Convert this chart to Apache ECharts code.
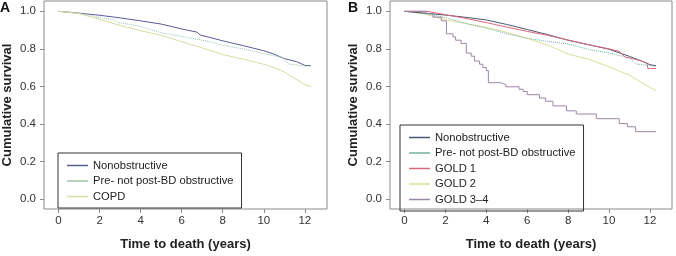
<!DOCTYPE html>
<html>
<head>
<meta charset="utf-8">
<script src="https://cdn.jsdelivr.net/npm/echarts@6/dist/echarts.min.js"></script>
<style>
  html, body { margin: 0; padding: 0; background: #fff; }
  #chart { width: 676px; height: 256px; }
</style>
</head>
<body>
<div id="chart"></div>
<script>
// tick labels
const xTicks = [0, 2, 4, 6, 8, 10, 12];
const yTicks = [0, 0.2, 0.4, 0.6, 0.8, 1.0];

// panel A: [years, cumulative survival]
const nonobA = [[0,1],[1,0.99],[2,0.979],[3,0.965],[4,0.949],[5,0.932],[6,0.906],[6.75,0.889],[6.9,0.874],[8,0.843],[9,0.817],[10,0.79],[10.5,0.772],[11,0.748],[11.6,0.732],[12,0.712],[12.3,0.71]];
const preA = [[0,1],[1,0.99],[1.5,0.98],[2,0.966],[2.7,0.955],[2.9,0.94],[3.5,0.93],[4,0.918],[5,0.886],[6,0.866],[7,0.846],[7.5,0.835],[8,0.818],[9,0.8],[10,0.775],[10.9,0.754],[11.2,0.72],[12,0.708],[12.3,0.708]];
const copdA = [[0,1],[1,0.988],[2,0.957],[3,0.925],[4,0.897],[5,0.872],[6,0.838],[7,0.805],[8,0.77],[9,0.745],[10,0.718],[10.5,0.7],[11,0.677],[11.5,0.643],[12,0.61],[12.3,0.6]];

// panel B
const nonobB = [[0,1],[1,0.99],[2,0.98],[3,0.968],[4,0.954],[5,0.93],[6,0.903],[7,0.876],[8,0.846],[9,0.822],[10,0.798],[11,0.76],[11.6,0.735],[12,0.716],[12.3,0.71]];
const preB = [[0,1],[1,0.99],[2,0.966],[3,0.935],[4,0.91],[5,0.88],[6,0.856],[7,0.84],[8,0.826],[9,0.797],[10,0.778],[11,0.752],[11.3,0.72],[12,0.71],[12.3,0.708]];
const gold1B = [[0,1],[1.1,1],[1.15,0.99],[2,0.982],[3,0.962],[4,0.94],[5,0.916],[6,0.893],[7,0.872],[8,0.847],[9,0.822],[10,0.8],[10.5,0.787],[10.8,0.755],[11,0.752],[11.5,0.738],[11.85,0.725],[11.9,0.695],[12.3,0.695]];
const gold2B = [[0,1],[1,0.985],[2,0.955],[3,0.935],[4,0.915],[5,0.888],[6,0.856],[7,0.82],[8,0.772],[9,0.745],[10,0.705],[11,0.66],[11.5,0.627],[12,0.595],[12.3,0.578]];
const gold34B = [[0,1],[1.06,0.987],[1.39,0.969],[1.8,0.949],[2.05,0.88],[2.37,0.864],[2.5,0.846],[2.77,0.829],[3.02,0.778],[3.26,0.761],[3.42,0.735],[3.67,0.718],[3.83,0.701],[4.0,0.684],[4.1,0.62],[4.7,0.61],[4.95,0.598],[5.6,0.585],[5.8,0.573],[6.0,0.556],[6.6,0.538],[6.9,0.521],[7.26,0.496],[7.92,0.47],[8.4,0.453],[9.38,0.428],[10.5,0.402],[10.9,0.385],[11.3,0.359],[12.3,0.359]];

const frame = '#8a8a8a';
const font = 'Liberation Sans, Arial, sans-serif';

function xAx(i) {
  return {
    type: 'value', gridIndex: i, min: -0.71, max: 13.08,
    name: 'Time to death (years)', nameLocation: 'middle', nameGap: 29,
    nameTextStyle: { fontSize: 13, fontWeight: 'bold', color: '#222', fontFamily: font, verticalAlign: 'top' },
    axisLine: { show: false, onZero: false },
    axisTick: { show: true, length: 4, customValues: xTicks, lineStyle: { color: frame } },
    axisLabel: { customValues: xTicks, margin: 6, fontSize: 11.5, color: '#333', fontFamily: font },
    splitLine: { show: false }
  };
}
function yAx(i) {
  return {
    type: 'value', gridIndex: i, min: -0.0528, max: 1.0549,
    name: 'Cumulative survival', nameLocation: 'middle', nameGap: 30,
    nameTextStyle: { fontSize: 13, fontWeight: 'bold', color: '#222', fontFamily: font },
    axisLine: { show: false, onZero: false },
    axisTick: { show: true, length: 4, customValues: yTicks, lineStyle: { color: frame } },
    axisLabel: { customValues: yTicks, margin: 8, fontSize: 11.5, color: '#333', fontFamily: font,
      formatter: v => v.toFixed(1) },
    splitLine: { show: false }
  };
}
function line(name, data, color, i, dotted, step) {
  return {
    type: 'line', name: name, data: data, xAxisIndex: i, yAxisIndex: i,
    showSymbol: false, symbol: 'none', silent: true, step: step || false,
    lineStyle: { color: color, width: 1, type: dotted ? 'dotted' : 'solid' },
    itemStyle: { color: color }
  };
}
function leg(left, top, items) {
  return {
    orient: 'vertical', left: left, top: top, icon: 'rect',
    itemWidth: 21, itemHeight: 1.5, itemGap: 2.5, padding: [6, 8, 5, 9],
    borderColor: '#333', borderWidth: 1, selectedMode: false,
    textStyle: { fontSize: 11.2, color: '#222', fontFamily: font, lineHeight: 13 },
    data: items.map(d => ({ name: d[0], itemStyle: { color: d[1], borderWidth: 0 } }))
  };
}

const cA = { nonob: '#5a5c94', pre: '#9cc4a8', copd: '#d6dca0' };
const cB = { nonob: '#4a5670', pre: '#72b0a0', g1: '#d9687a', g2: '#dcdc98', g34: '#9a88a8' };

const chart = echarts.init(document.getElementById('chart'));
chart.setOption({
  animation: false,
  grid: [
    { left: 44, top: 1, width: 283, height: 216, show: true, borderColor: frame, borderWidth: 1 },
    { left: 390, top: 1, width: 282, height: 216, show: true, borderColor: frame, borderWidth: 1 }
  ],
  xAxis: [xAx(0), xAx(1)],
  yAxis: [yAx(0), yAx(1)],
  legend: [
    leg(58, 153, [['Nonobstructive', cA.nonob], ['Pre- not post-BD obstructive', cA.pre], ['COPD', cA.copd]]),
    leg(400, 125, [['Nonobstructive', cB.nonob], ['Pre- not post-BD obstructive', cB.pre], ['GOLD 1', cB.g1], ['GOLD 2', cB.g2], ['GOLD 3–4', cB.g34]])
  ],
  graphic: [
    { type: 'text', left: 0, top: 1, style: { text: 'A', fontSize: 14, fontWeight: 'bold', fill: '#111', fontFamily: font } },
    { type: 'text', left: 348, top: 1, style: { text: 'B', fontSize: 14, fontWeight: 'bold', fill: '#111', fontFamily: font } }
  ],
  series: [
    line('Nonobstructive', nonobA, cA.nonob, 0),
    line('Pre- not post-BD obstructive', preA, cA.pre, 0, true),
    line('COPD', copdA, cA.copd, 0),
    line('GOLD 2', gold2B, cB.g2, 1),
    line('Pre- not post-BD obstructive', preB, cB.pre, 1, true),
    line('Nonobstructive', nonobB, cB.nonob, 1),
    line('GOLD 1', gold1B, cB.g1, 1),
    line('GOLD 3–4', gold34B, cB.g34, 1, false, 'end')
  ]
});
</script>
</body>
</html>
